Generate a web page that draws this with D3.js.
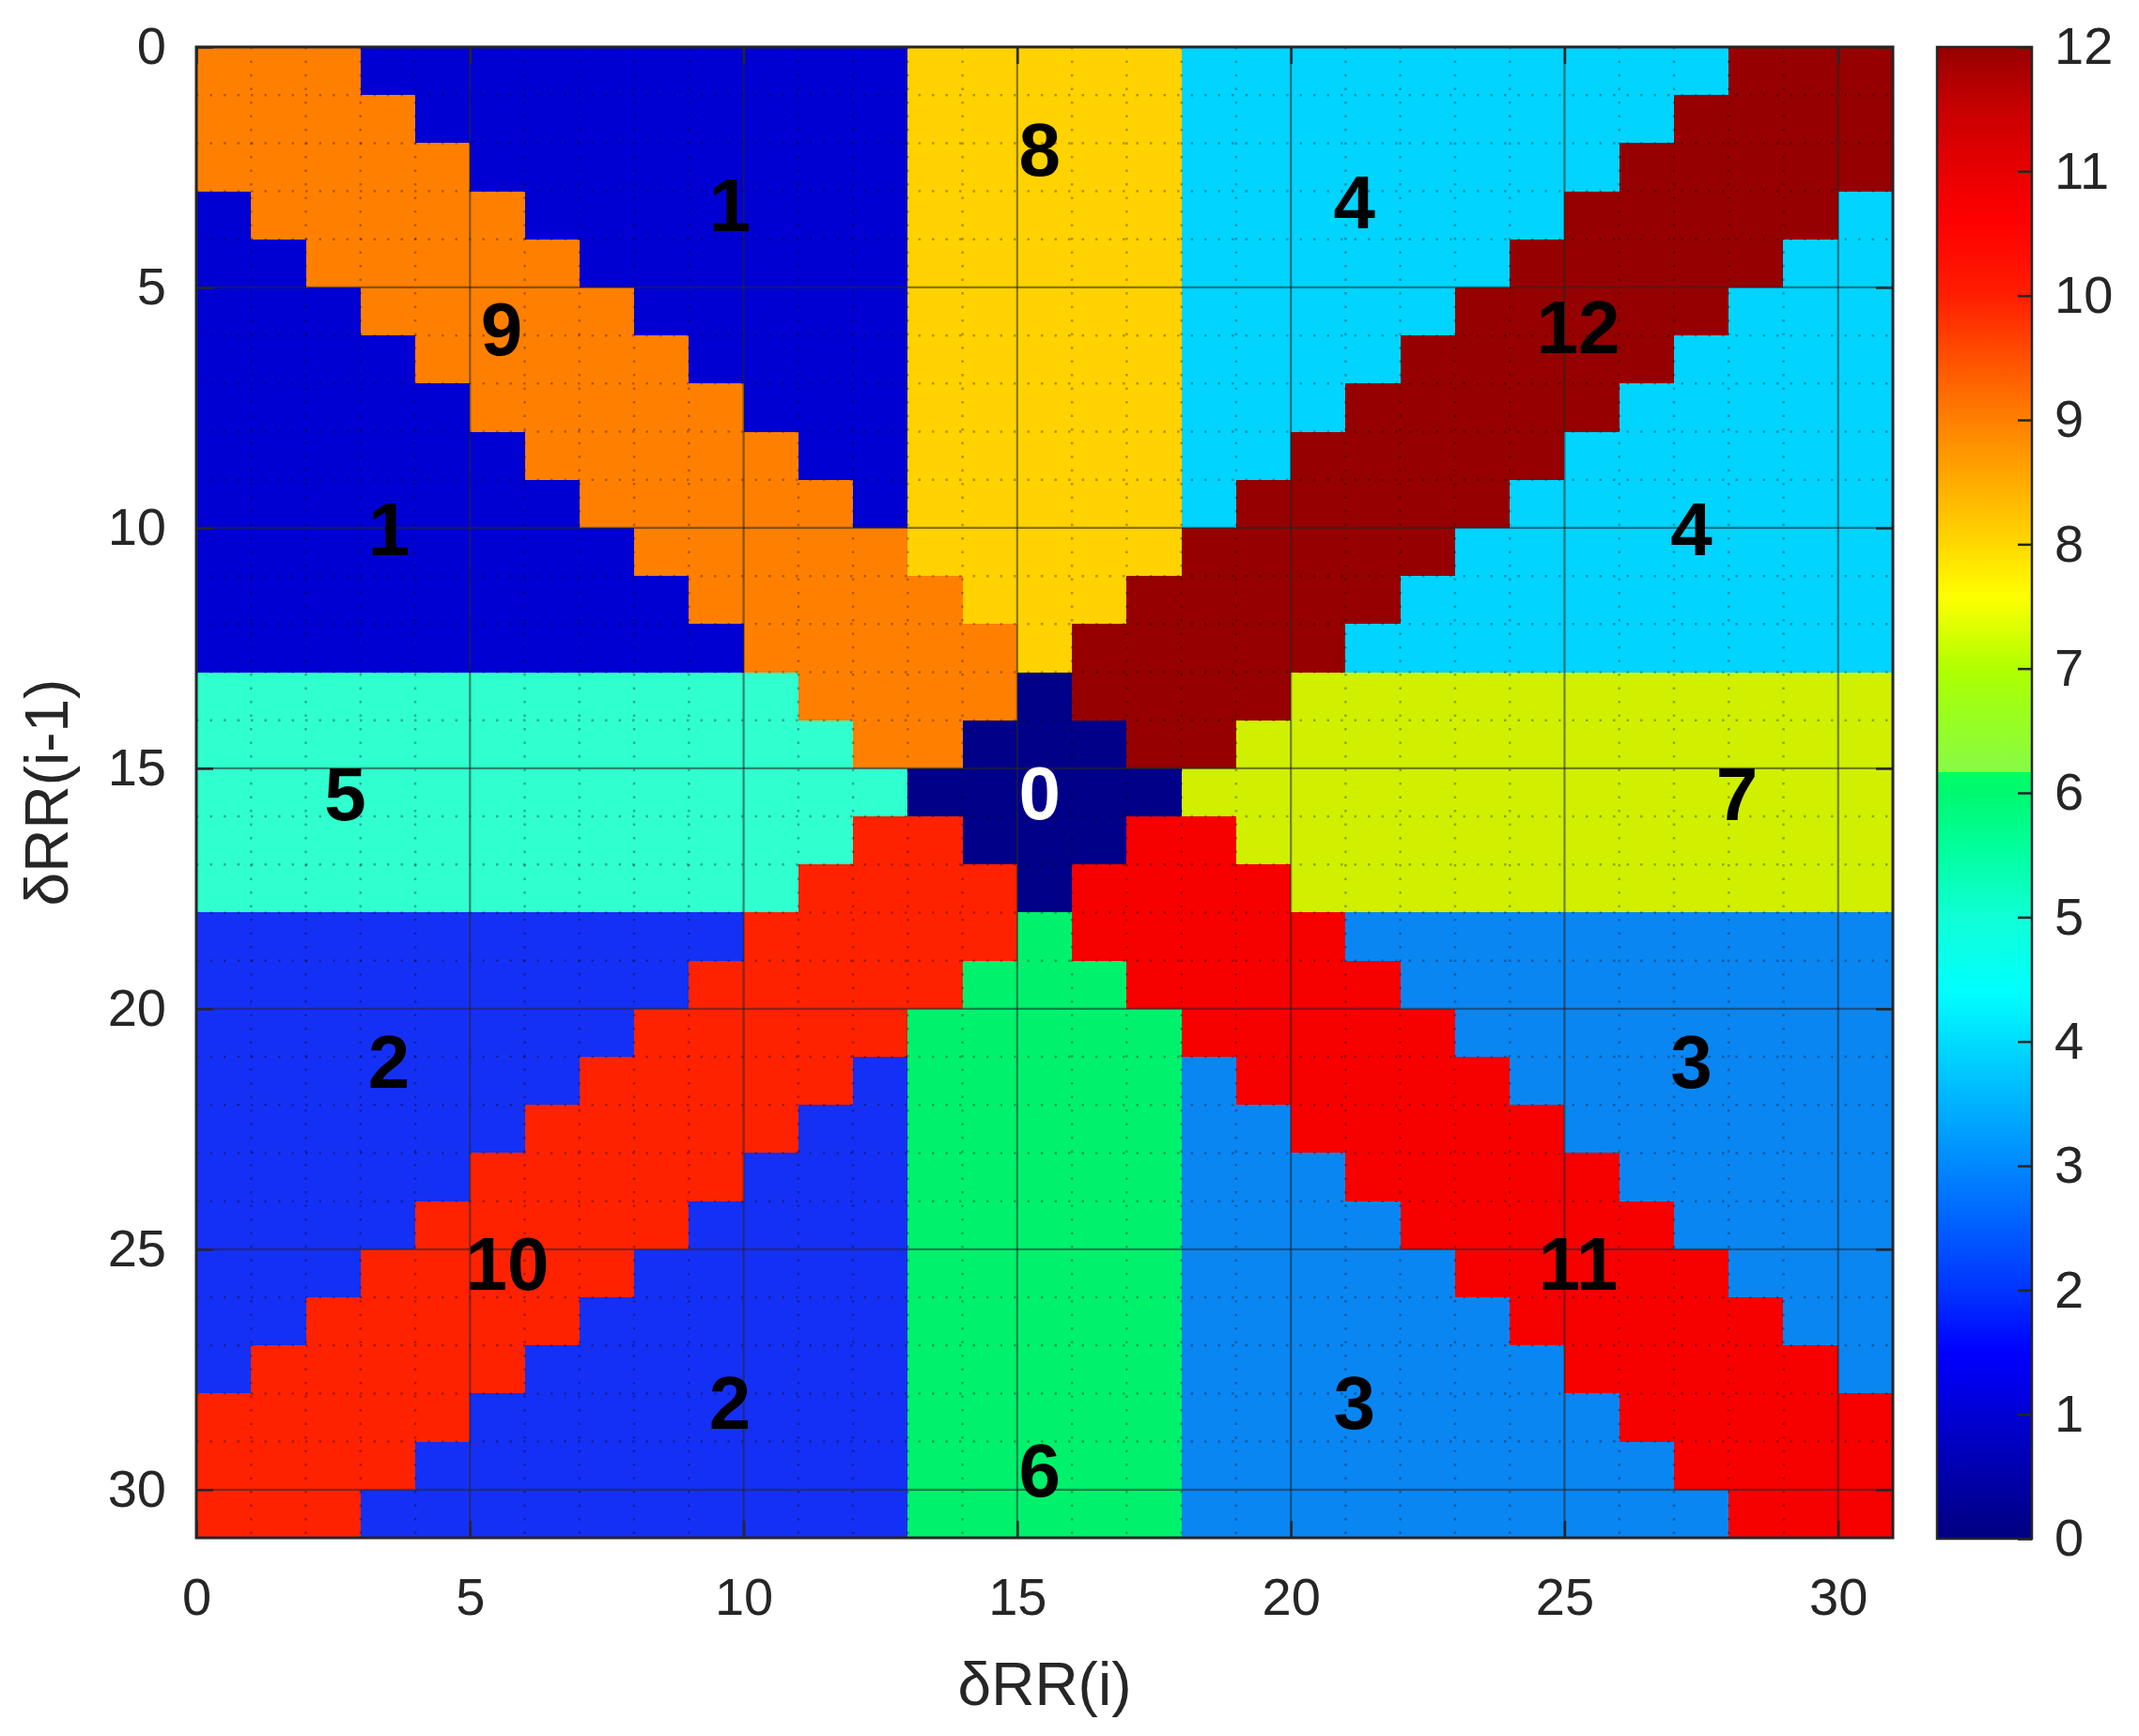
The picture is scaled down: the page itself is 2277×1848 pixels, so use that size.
<!DOCTYPE html>
<html>
<head>
<meta charset="utf-8">
<script src="https://cdn.jsdelivr.net/npm/d3@7"></script>
<style>
  body { margin: 0; background: #fff; }
  svg text { font-family: "Liberation Sans", Arial, sans-serif; }
</style>
</head>
<body>
<div id="chart"></div>
<script>
// Griglia 31x31: un carattere per cella (a=10, b=11, c=12), spazi solo per leggibilità
const rows = [
  "999 1111111111 88888 4444444444 ccc",
  "9999 111111111 88888 444444444 cccc",
  "99999 11111111 88888 44444444 ccccc",
  "1 99999 1111111 88888 4444444 ccccc 4",
  "11 99999 111111 88888 444444 ccccc 44",
  "111 99999 11111 88888 44444 ccccc 444",
  "1111 99999 1111 88888 4444 ccccc 4444",
  "11111 99999 111 88888 444 ccccc 44444",
  "111111 99999 11 88888 44 ccccc 444444",
  "1111111 99999 1 88888 4 ccccc 4444444",
  "11111111 99999 88888 ccccc 44444444",
  "111111111 99999 888 ccccc 444444444",
  "1111111111 99999 8 ccccc 4444444444",
  "55555555555 9999 0 cccc 77777777777",
  "555555555555 99 000 cc 777777777777",
  "5555555555555 00000 7777777777777",
  "555555555555 aa 000 bb 777777777777",
  "55555555555 aaaa 0 bbbb 77777777777",
  "2222222222 aaaaa 6 bbbbb 3333333333",
  "222222222 aaaaa 666 bbbbb 333333333",
  "22222222 aaaaa 66666 bbbbb 33333333",
  "2222222 aaaaa 2 66666 3 bbbbb 3333333",
  "222222 aaaaa 22 66666 33 bbbbb 333333",
  "22222 aaaaa 222 66666 333 bbbbb 33333",
  "2222 aaaaa 2222 66666 3333 bbbbb 3333",
  "222 aaaaa 22222 66666 33333 bbbbb 333",
  "22 aaaaa 222222 66666 333333 bbbbb 33",
  "2 aaaaa 2222222 66666 3333333 bbbbb 3",
  "aaaaa 22222222 66666 33333333 bbbbb",
  "aaaa 222222222 66666 333333333 bbbb",
  "aaa 2222222222 66666 3333333333 bbb"
];

const axisTicks = [0, 5, 10, 15, 20, 25, 30];
const levels = [0, 1, 2, 3, 4, 5, 6, 7, 8, 9, 10, 11, 12];
const levelColors = ["#000088", "#0000D2", "#1530F5", "#0A86F2", "#00D4FF", "#30FFCF",
  "#00F26C", "#D0F000", "#FFD200", "#FF8000", "#FF2200", "#F60000", "#960000"];

// colorbar
const cbTicks = [0, 1, 2, 3, 4, 5, 6, 7, 8, 9, 10, 11, 12];
const cbStopValues = [0, 1, 1.5, 2, 3, 4, 4.4, 5, 5.6, 6, 6.17, 6.17, 6.6, 7, 7.58, 8, 9, 9.5, 10, 10.6, 11, 11.5, 12];
const cbStopColors = ["#000080", "#0000D4", "#0000FF", "#0034FF", "#0088FF", "#00DCFF", "#00FFFF", "#10FFD6",
  "#00FF98", "#00F870", "#00FF66", "#88FA46", "#98FF20", "#B0FF00", "#FFFF00", "#FFD800", "#FF8000",
  "#FF5000", "#FF1E00", "#FF0000", "#E80000", "#C80000", "#960000"];

// etichette delle regioni
const labelText = ["1", "8", "4", "9", "12", "1", "4", "5", "0", "7", "2", "3", "10", "11", "2", "3", "6"];
const labelX = [9.75, 15.41, 21.16, 5.58, 25.25, 3.52, 27.32, 2.72, 15.41, 28.15, 3.52, 27.32, 5.68, 25.25, 9.75, 21.16, 15.41];
const labelY = [3.34, 2.2, 3.28, 5.92, 5.88, 10.08, 10.08, 15.6, 15.57, 15.6, 21.15, 21.15, 25.35, 25.35, 28.25, 28.25, 29.65];

const grid = rows.map(r => r.replace(/ /g, "").split("").map(c => parseInt(c, 16)));
const cells = [];
grid.forEach((row, j) => row.forEach((v, i) => cells.push({ i: i, j: j, v: v })));

const W = 2277, H = 1848;
const svg = d3.select("#chart").append("svg")
    .attr("width", W)
    .attr("height", H);

// Scale
const x = d3.scaleLinear().domain([0, 31]).range([209, 2015]);
const y = d3.scaleLinear().domain([0, 31]).range([50, 1637]);
const color = d3.scaleOrdinal().domain(levels).range(levelColors);

// Celle
svg.append("g")
    .attr("shape-rendering", "crispEdges")
    .selectAll("rect")
    .data(cells)
    .join("rect")
    .attr("x", d => x(d.i))
    .attr("y", d => y(d.j))
    .attr("width", d => x(d.i + 1) - x(d.i) + 0.5)
    .attr("height", d => y(d.j + 1) - y(d.j) + 0.5)
    .attr("fill", d => color(d.v));

// Griglia minore (puntini) e maggiore
const minor = d3.range(1, 31).filter(k => k % 5 !== 0);
const gridG = svg.append("g");
gridG.selectAll(".mv").data(minor).join("line")
    .attr("x1", d => x(d)).attr("x2", d => x(d))
    .attr("y1", y(0)).attr("y2", y(31))
    .attr("stroke", "#000").attr("stroke-opacity", 0.3)
    .attr("stroke-width", 2.5).attr("stroke-dasharray", "2.5 12");
gridG.selectAll(".mh").data(minor).join("line")
    .attr("y1", d => y(d)).attr("y2", d => y(d))
    .attr("x1", x(0)).attr("x2", x(31))
    .attr("stroke", "#000").attr("stroke-opacity", 0.3)
    .attr("stroke-width", 2.5).attr("stroke-dasharray", "2.5 12");
const major = axisTicks.filter(k => k > 0);
gridG.selectAll(".Mv").data(major).join("line")
    .attr("x1", d => x(d)).attr("x2", d => x(d))
    .attr("y1", y(0)).attr("y2", y(31))
    .attr("stroke", "#262626").attr("stroke-opacity", 0.55).attr("stroke-width", 2.2);
gridG.selectAll(".Mh").data(major).join("line")
    .attr("y1", d => y(d)).attr("y2", d => y(d))
    .attr("x1", x(0)).attr("x2", x(31))
    .attr("stroke", "#262626").attr("stroke-opacity", 0.55).attr("stroke-width", 2.2);

// Assi
function styleAxis(g) {
    g.select(".domain").remove();
    g.attr("font-family", null).attr("font-size", null);
    g.selectAll(".tick line").attr("stroke", "#262626").attr("stroke-width", 2.5);
    g.selectAll(".tick text").attr("fill", "#262626").style("font-size", "56px");
}
svg.append("g").attr("transform", `translate(${x(0)},0)`)
    .call(d3.axisLeft(y).tickValues(axisTicks).tickSize(-18).tickPadding(32))
    .call(styleAxis);
svg.append("g").attr("transform", `translate(0,${y(31)})`)
    .call(d3.axisBottom(x).tickValues(axisTicks).tickSize(-18).tickPadding(42))
    .call(styleAxis);
svg.append("g").attr("transform", `translate(0,${y(0)})`)
    .call(d3.axisTop(x).tickValues(axisTicks).tickSize(-18).tickFormat(""))
    .call(styleAxis);
svg.append("g").attr("transform", `translate(${x(31)},0)`)
    .call(d3.axisRight(y).tickValues(axisTicks).tickSize(-18).tickFormat(""))
    .call(styleAxis);

// Bordo
svg.append("rect")
    .attr("x", x(0)).attr("y", y(0))
    .attr("width", x(31) - x(0)).attr("height", y(31) - y(0))
    .attr("fill", "none").attr("stroke", "#262626").attr("stroke-width", 3);

// Etichette regioni
svg.append("g").selectAll("text")
    .data(labelText)
    .join("text")
    .attr("x", (d, k) => x(labelX[k]))
    .attr("y", (d, k) => y(labelY[k]))
    .attr("dy", "0.31em")
    .attr("text-anchor", "middle")
    .style("font-size", "80px")
    .style("font-weight", "bold")
    .attr("fill", d => d === "0" ? "#fff" : "#000")
    .text(d => d);

// Titoli assi
svg.append("text")
    .attr("x", (x(0) + x(31)) / 2).attr("y", 1815)
    .attr("text-anchor", "middle")
    .style("font-size", "64px").attr("fill", "#262626")
    .text("δRR(i)");
svg.append("text")
    .attr("transform", `translate(72,${(y(0) + y(31)) / 2}) rotate(-90)`)
    .attr("text-anchor", "middle")
    .style("font-size", "64px").attr("fill", "#262626")
    .text("δRR(i-1)");

// Colorbar
const cbY = d3.scaleLinear().domain([0, 12]).range([1638, 50]);
const grad = svg.append("defs").append("linearGradient")
    .attr("id", "cbGrad")
    .attr("x1", 0).attr("y1", 1).attr("x2", 0).attr("y2", 0);
grad.selectAll("stop")
    .data(cbStopValues)
    .join("stop")
    .attr("offset", d => d / 12)
    .attr("stop-color", (d, k) => cbStopColors[k]);
svg.append("rect")
    .attr("x", 2062).attr("y", cbY(12))
    .attr("width", 101).attr("height", cbY(0) - cbY(12))
    .attr("fill", "url(#cbGrad)")
    .attr("stroke", "#262626").attr("stroke-width", 2.5);
svg.append("g").attr("transform", "translate(2163,0)")
    .call(d3.axisRight(cbY).tickValues(cbTicks).tickSize(-15).tickPadding(24))
    .call(styleAxis);
</script>
</body>
</html>
